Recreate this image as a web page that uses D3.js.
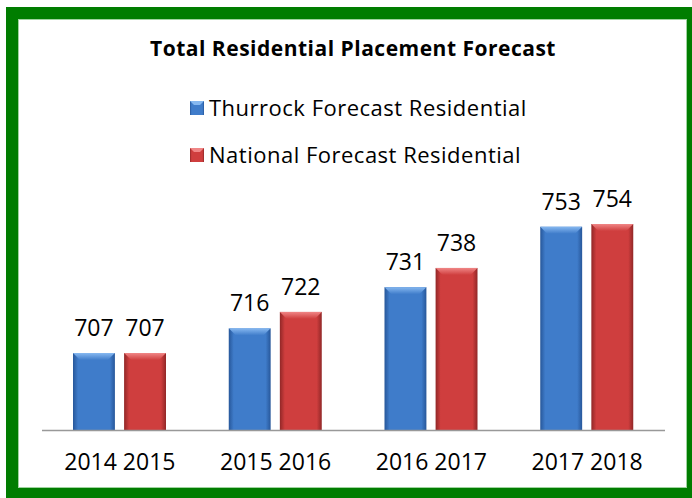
<!DOCTYPE html>
<html>
<head>
<meta charset="utf-8">
<script src="https://d3js.org/d3.v7.min.js"></script>
<style>
    body { margin: 0; background: #ffffff; }
    text { font-family: 'Open Sans', sans-serif; fill: #000; }
</style>
</head>
<body>
<svg id="chart" width="692" height="498"></svg>
<script>
var categories = ["2014 2015", "2015 2016", "2016 2017", "2017 2018"];
var seriesNames = ["Thurrock Forecast Residential", "National Forecast Residential"];
var thurrock = [707, 716, 731, 753];
var national = [707, 722, 738, 754];

var colors = [
    { main: "#3f7cca", light: "#86b8f0", dark: "#27579a" },
    { main: "#cf3e3e", light: "#f08686", dark: "#912727" }
];

var svg = d3.select("#chart");
var defs = svg.append("defs");

colors.forEach(function(c, i) {
    var g = defs.append("linearGradient").attr("id", "grad" + i)
        .attr("x1", 0).attr("x2", 1).attr("y1", 0).attr("y2", 0);
    g.append("stop").attr("offset", "0%").attr("stop-color", c.dark);
    g.append("stop").attr("offset", "12%").attr("stop-color", c.main);
    g.append("stop").attr("offset", "88%").attr("stop-color", c.main);
    g.append("stop").attr("offset", "100%").attr("stop-color", c.dark);
    var t = defs.append("linearGradient").attr("id", "top" + i)
        .attr("x1", 0).attr("x2", 0).attr("y1", 0).attr("y2", 1);
    t.append("stop").attr("offset", "0%").attr("stop-color", c.light);
    t.append("stop").attr("offset", "100%").attr("stop-color", c.main);
});

// green frame
svg.append("rect")
    .attr("x", 12).attr("y", 13).attr("width", 681).attr("height", 481)
    .attr("fill", "#ffffff").attr("stroke", "#007d00").attr("stroke-width", 12);
svg.append("rect")
    .attr("x", 18.5).attr("y", 19.5).attr("width", 668).attr("height", 468)
    .attr("fill", "none").attr("stroke", "#9fd39f").attr("stroke-width", 1);

svg.append("text")
    .attr("x", 353).attr("y", 56)
    .attr("text-anchor", "middle")
    .style("font-size", "21px").style("font-weight", "bold")
    .style("letter-spacing", "0.5px")
    .text("Total Residential Placement Forecast");

// legend
var legend = svg.selectAll("g.legend").data(seriesNames).enter()
    .append("g").attr("class", "legend")
    .attr("transform", function(d, i) { return "translate(190," + (101 + i * 47) + ")"; });
legend.append("rect").attr("width", 14).attr("height", 14)
    .attr("fill", function(d, i) { return "url(#grad" + i + ")"; });
legend.append("path")
    .attr("d", "M0,0 L14,0 L10,4 L4,4 Z")
    .attr("fill", function(d, i) { return colors[i].light; });
legend.append("text")
    .attr("x", 19).attr("y", 15)
    .style("font-size", "22px")
    .style("letter-spacing", "0.5px")
    .text(function(d) { return d; });

var x0 = d3.scaleBand().domain(categories).range([42, 665]);
var x1 = d3.scaleBand().domain([0, 1]).range([31, 124]).paddingInner(0.18);
var y = d3.scaleLinear().domain([679, 754]).range([430, 224]);

var data = categories.map(function(c, i) {
    return { cat: c, vals: [thurrock[i], national[i]] };
});

var groups = svg.selectAll("g.cat").data(data).enter()
    .append("g").attr("class", "cat")
    .attr("transform", function(d) { return "translate(" + x0(d.cat) + ",0)"; });

var bars = groups.selectAll("g.bar")
    .data(function(d) { return d.vals.map(function(v, i) { return { v: v, s: i }; }); })
    .enter().append("g").attr("class", "bar");

bars.append("rect")
    .attr("x", function(d) { return x1(d.s); })
    .attr("y", function(d) { return y(d.v); })
    .attr("width", x1.bandwidth())
    .attr("height", function(d) { return y.range()[0] - y(d.v); })
    .attr("fill", function(d) { return "url(#grad" + d.s + ")"; });

// top bevel
bars.append("path")
    .attr("d", function(d) {
        var l = x1(d.s), r = l + x1.bandwidth(), t = y(d.v), b = 7;
        return "M" + l + "," + t + " L" + r + "," + t + " L" + (r - b) + "," + (t + b) +
               " L" + (l + b) + "," + (t + b) + " Z";
    })
    .attr("fill", function(d) { return "url(#top" + d.s + ")"; });

bars.append("text")
    .attr("x", function(d) { return x1(d.s) + x1.bandwidth() / 2; })
    .attr("y", function(d) { return y(d.v) - 17; })
    .attr("text-anchor", "middle")
    .style("font-size", "23px")
    .text(function(d) { return d.v; });

// axis line
svg.append("line")
    .attr("x1", 42).attr("x2", 665)
    .attr("y1", y.range()[0] + 0.5).attr("y2", y.range()[0] + 0.5)
    .attr("stroke", "#999").attr("stroke-width", 1.5);

var xAxis = svg.append("g")
    .attr("transform", "translate(0," + y.range()[0] + ")")
    .call(d3.axisBottom(x0).tickSize(0).tickPadding(24));
xAxis.select(".domain").remove();
xAxis.selectAll("text")
    .style("font-size", "23px")
    .style("font-family", "'Open Sans', sans-serif")
    .attr("fill", "#000");
</script>
</body>
</html>
